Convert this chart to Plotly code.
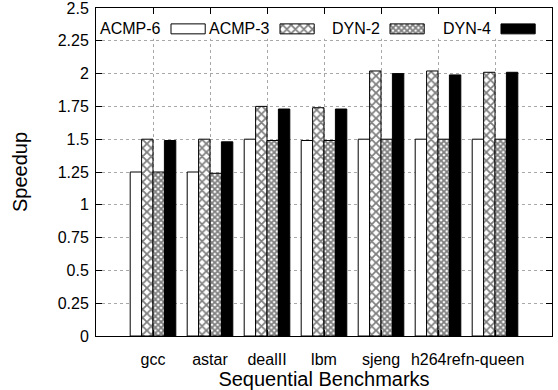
import plotly.graph_objects as go

categories = ["gcc", "astar", "dealII", "lbm", "sjeng", "h264ref", "n-queen"]
series_names = ["ACMP-6", "ACMP-3", "DYN-2", "DYN-4"]
acmp6 = [1.25, 1.25, 1.50, 1.49, 1.50, 1.50, 1.50]
acmp3 = [1.50, 1.50, 1.75, 1.74, 2.02, 2.02, 2.01]
dyn2 = [1.25, 1.24, 1.49, 1.49, 1.50, 1.50, 1.50]
dyn4 = [1.49, 1.48, 1.73, 1.73, 2.00, 1.99, 2.01]
y_ticks = [0, 0.25, 0.5, 0.75, 1, 1.25, 1.5, 1.75, 2, 2.25, 2.5]
y_tick_labels = ["0", "0.25", "0.5", "0.75", "1", "1.25", "1.5", "1.75", "2", "2.25", "2.5"]

FONT = "Liberation Sans, Arial, Helvetica, sans-serif"

styles = [
    dict(color="white", line=dict(color="black", width=1)),
    dict(color="white", line=dict(color="black", width=1),
         pattern=dict(shape="x", size=6, solidity=0.5, fgcolor="black", bgcolor="white")),
    dict(color="white", line=dict(color="black", width=1),
         pattern=dict(shape="x", size=4, solidity=0.7, fgcolor="black", bgcolor="white")),
    dict(color="black", line=dict(color="black", width=1)),
]

values = [acmp6, acmp3, dyn2, dyn4]
xpos = list(range(len(categories)))
bar_w = 0.2

fig = go.Figure()
for i, (name, vals) in enumerate(zip(series_names, values)):
    fig.add_trace(go.Bar(
        x=xpos, y=vals, name=name, width=bar_w, offset=-0.4 + bar_w * i,
        marker=styles[i], showlegend=False,
    ))

# custom gnuplot-style key: label then sample
key_start = [0.316, 2.228, 4.158, 6.105]
key_len = 0.6
key_y = 2.341
for i, name in enumerate(series_names):
    fig.add_trace(go.Bar(
        orientation="h", y=[key_y], x=[key_len], base=[key_start[i]],
        width=0.076, offset=-0.038, marker=styles[i], showlegend=False,
        hoverinfo="skip",
    ))
    fig.add_annotation(
        x=key_start[i] - 0.14, y=key_y, text=name, showarrow=False,
        xanchor="right", yanchor="middle", font=dict(size=16, color="black", family=FONT),
    )

fig.add_shape(type="rect", xref="x", yref="y", x0=-1, x1=7, y0=2.265, y1=2.5,
              fillcolor="white", line=dict(width=0), layer="between")

fig.update_layout(
    width=558, height=390,
    margin=dict(l=96, r=6, t=8, b=54, autoexpand=False),
    paper_bgcolor="white", plot_bgcolor="white",
    barmode="overlay",
    font=dict(family=FONT, size=16, color="black"),
    showlegend=False,
)
fig.update_xaxes(
    range=[-1, 7], tickvals=xpos, ticktext=categories, tickangle=0,
    ticks="inside", ticklen=6, tickcolor="black",
    showline=True, linecolor="black", linewidth=1, mirror="allticks",
    showgrid=True, gridcolor="#a8a8a8", griddash="dot", gridwidth=1,
    title=dict(text="Sequential Benchmarks", font=dict(size=20), standoff=1),
    tickfont=dict(size=16), zeroline=False, automargin=False,
    ticklabelstandoff=9, ticklabeloverflow="allow",
)
fig.update_yaxes(
    range=[0, 2.5], tickvals=y_ticks, ticktext=y_tick_labels,
    ticks="inside", ticklen=6, tickcolor="black",
    showline=True, linecolor="black", linewidth=1, mirror="allticks",
    showgrid=True, gridcolor="#a8a8a8", griddash="dot", gridwidth=1,
    title=dict(text="Speedup", font=dict(size=20), standoff=24),
    tickfont=dict(size=16), zeroline=False, automargin=False,
    ticklabelstandoff=3, ticklabeloverflow="allow",
)

fig.write_html("out.html", config={"displayModeBar": False},
               post_script="document.body.style.margin='0';")
